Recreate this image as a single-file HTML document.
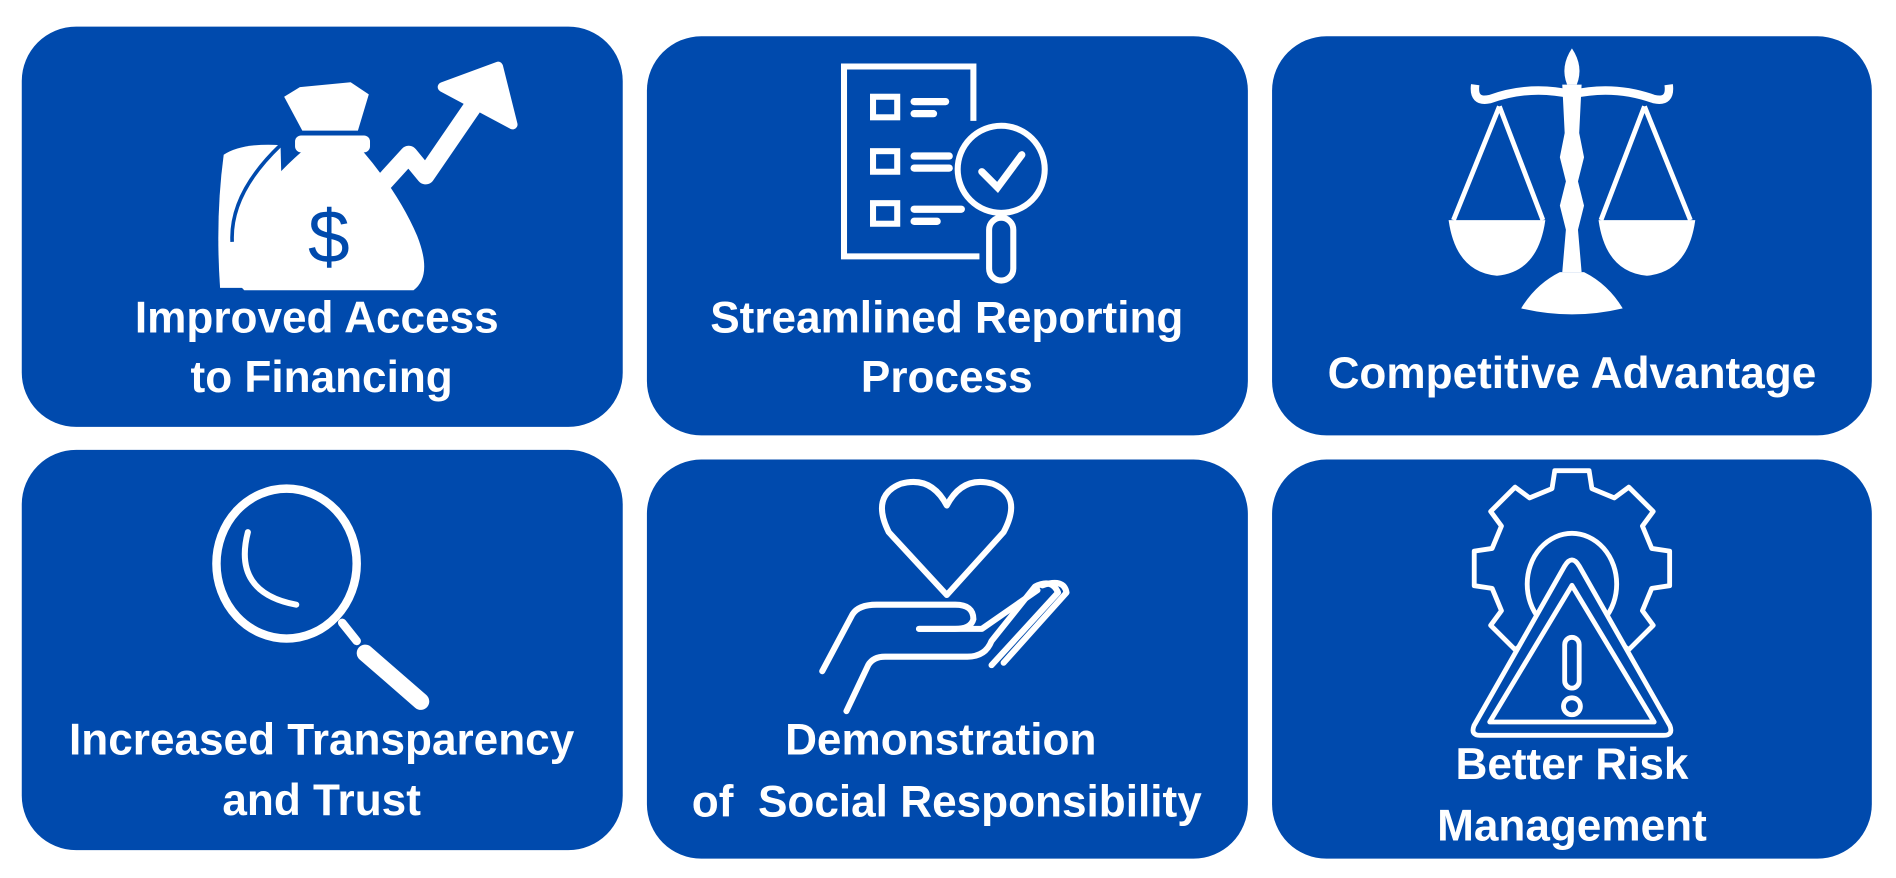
<!DOCTYPE html>
<html><head><meta charset="utf-8"><style>
html,body{margin:0;padding:0;background:#fff;}
svg{display:block;}
text{font-family:"Liberation Sans",sans-serif;font-weight:bold;fill:#fff;font-size:36.5px;text-anchor:middle;}
</style></head><body>
<svg width="1896" height="878" viewBox="0 0 1568 726" preserveAspectRatio="none" xmlns="http://www.w3.org/2000/svg">
<g fill="#004aad">
<rect x="18" y="22" width="497" height="331" rx="45"/>
<rect x="535" y="30" width="497" height="330" rx="45"/>
<rect x="1052" y="30" width="496" height="330" rx="45"/>
<rect x="18" y="372" width="497" height="331" rx="45"/>
<rect x="535" y="380" width="497" height="330" rx="45"/>
<rect x="1052" y="380" width="496" height="330" rx="45"/>
</g>

<!-- Box1 icon -->
<g fill="#fff">
<path d="M185 128 Q200 118 232 120 L235 238 L182 238 Q178 180 185 128 Z"/>
<path d="M250 125 Q255 118 290 118 L300 125 Q330 160 345 195 Q358 228 342 240 L202 240 Q186 225 196 195 Q210 160 250 125 Z"/>
<rect x="244" y="112" width="62" height="14" rx="5"/>
<path d="M235 80 L248 72 L290 68 L305 78 L296 108 L250 108 Z"/>
</g>
<path d="M192 200 Q190 160 232 120" fill="none" stroke="#004aad" stroke-width="3"/>
<text x="272" y="217" style="fill:#004aad;font-weight:normal;font-size:62px;font-family:'Liberation Sans',sans-serif">$</text>
<polyline points="318,150 338,128 352,145 400,75" fill="none" stroke="#fff" stroke-width="15" stroke-linejoin="round" stroke-linecap="round"/>
<path d="M366 72 L412 55 L424 103 Z" fill="#fff" stroke="#fff" stroke-width="8" stroke-linejoin="round"/>

<!-- Box2 icon -->
<g fill="none" stroke="#fff" stroke-width="5">
<path d="M805 100 L805 55 L698 55 L698 212 L810 212"/>
<rect x="722" y="80" width="20" height="17"/>
<rect x="722" y="125" width="20" height="17"/>
<rect x="722" y="168" width="20" height="17"/>
<circle cx="828" cy="140" r="36"/>
<path d="M812 142 L825 155 L845 128" stroke-width="6" stroke-linecap="round"/>
<rect x="818" y="180" width="20" height="52" rx="10"/>
</g>
<g stroke="#fff" stroke-width="6" stroke-linecap="round">
<line x1="756" y1="84" x2="782" y2="84"/><line x1="756" y1="94" x2="772" y2="94"/>
<line x1="756" y1="129" x2="785" y2="129"/><line x1="756" y1="139" x2="785" y2="139"/>
<line x1="756" y1="173" x2="795" y2="173"/><line x1="756" y1="183" x2="775" y2="183"/>
</g>

<!-- Box3 icon -->
<g fill="#fff">
<path d="M1300 40 Q1290 55 1296 70 L1304 70 Q1310 55 1300 40 Z"/>
<path d="M1292 70 L1308 70 L1306 110 L1310 130 L1305 150 L1310 170 L1305 190 L1308 225 L1292 225 L1295 190 L1290 170 L1295 150 L1290 130 L1294 110 Z"/>
<path d="M1258 255 Q1270 235 1290 225 L1310 225 Q1330 235 1342 255 Q1300 265 1258 255 Z"/>
<path d="M1198 182 L1278 182 Q1272 225 1238 228 Q1204 225 1198 182 Z"/>
<path d="M1322 182 L1402 182 Q1396 225 1362 228 Q1328 225 1322 182 Z"/>
</g>
<g fill="none" stroke="#fff" stroke-width="4">
<path d="M1220 70 Q1218 85 1232 82 Q1265 70 1300 78 Q1335 70 1368 82 Q1382 85 1380 70" stroke-width="7"/>
<path d="M1240 88 L1202 182 M1240 88 L1276 182 M1360 88 L1324 182 M1360 88 L1398 182"/>
</g>

<!-- Box4 icon -->
<g fill="none" stroke="#fff" stroke-linecap="round">
<ellipse cx="237" cy="466" rx="58" ry="62" stroke-width="7"/>
<path d="M205 440 Q192 490 245 500" stroke-width="5"/>
<line x1="283" y1="515" x2="295" y2="530" stroke-width="7"/>
<line x1="302" y1="540" x2="348" y2="580" stroke-width="14"/>
</g>

<!-- Box5 icon -->
<g fill="none" stroke="#fff" stroke-width="5" stroke-linejoin="round" stroke-linecap="round">
<path d="M783 492 L735 440 Q720 410 745 400 Q770 393 783 418 Q796 393 821 400 Q846 410 830 440 Z"/>
<path d="M680 555 L705 508 Q710 500 725 500 L790 500 Q805 500 805 512 Q803 520 790 520 L760 520"/>
<path d="M700 588 L718 550 Q722 543 732 543 L800 543 Q815 543 820 530 L856 485 Q870 478 875 490 L820 550"/>
<path d="M760 520 L812 520 L858 488"/>
<path d="M862 484 Q880 478 882 490 L830 548"/>
</g>

<!-- Box6 icon -->
<g fill="none" stroke="#fff" stroke-width="4" stroke-linejoin="round">
<path d="M1283.5 404 L1285.8 389.2 L1314.2 389.2 L1316.5 404 L1335 411.7 L1347 402.8 L1367.2 422.9 L1358.3 435 L1366 453.5 L1380.8 455.7 L1380.8 484.3 L1366 486.5 L1358.3 505 L1367.2 517.1 L1347 537.2 L1335 528.3 L1316.5 536 L1314.2 550.8 L1285.8 550.8 L1283.5 536 L1265 528.3 L1253 537.2 L1232.8 517.1 L1241.7 505 L1234 486.5 L1219.2 484.3 L1219.2 455.7 L1234 453.5 L1241.7 435 L1232.8 422.9 L1253 402.8 L1265 411.7 Z"/>
<ellipse cx="1300" cy="483" rx="37" ry="42"/>
<path d="M1294 468 Q1300 458 1306 468 L1381 600 Q1384 608 1376 608 L1224 608 Q1216 608 1219 600 Z" fill="#004aad"/>
<path d="M1300 484 L1368 597 L1232 597 Z"/>
<rect x="1294" y="527" width="12" height="42" rx="6"/>
<circle cx="1300" cy="584" r="7"/>
</g>

<text x="262" y="275">Improved Access</text>
<text x="266" y="324">to Financing</text>
<text x="783" y="275">Streamlined Reporting</text>
<text x="783" y="324">Process</text>
<text x="1300" y="321">Competitive Advantage</text>
<text x="266" y="624">Increased Transparency</text>
<text x="266" y="674">and Trust</text>
<text x="778" y="624">Demonstration</text>
<text x="783" y="675" xml:space="preserve">of  Social Responsibility</text>
<text x="1300" y="644">Better Risk</text>
<text x="1300" y="695">Management</text>
</svg>
</body></html>
